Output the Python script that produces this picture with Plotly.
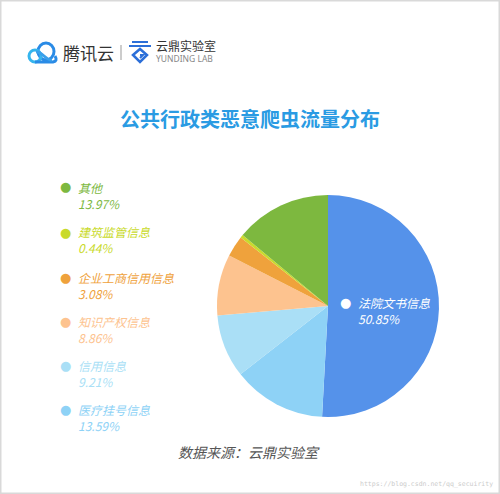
import plotly.graph_objects as go

W, H = 500, 494

categories = ["法院文书信息", "医疗挂号信息", "信用信息", "知识产权信息", "企业工商信用信息", "建筑监管信息", "其他"]
values = [50.85, 13.59, 9.21, 8.86, 3.08, 0.44, 13.97]
colors = ["#5592EA", "#8ED2F6", "#AADFF6", "#FDC38F", "#EFA23C", "#C9DA2B", "#7DB83F"]

legend_order = ["其他", "建筑监管信息", "企业工商信用信息", "知识产权信息", "信用信息", "医疗挂号信息"]
title_text = "公共行政类恶意爬虫流量分布"
source_text = "数据来源：云鼎实验室"


def px(x):
    return x / W


def py(y):
    return 1 - y / H


fig = go.Figure()
fig.add_trace(go.Pie(
    labels=categories, values=values, sort=False, direction="clockwise",
    rotation=0, marker=dict(colors=colors, line=dict(width=0)),
    textinfo="none", hoverinfo="label+percent", showlegend=False,
    domain=dict(x=[px(217), px(439)], y=[py(417), py(195)]),
))

CJK = "Noto Sans CJK SC, Noto Sans, sans-serif"
ann = []
shapes = []

# logo
ann.append(dict(x=px(61), y=py(52), text="腾讯云", showarrow=False, xanchor="left", yanchor="middle",
                font=dict(family=CJK, size=17, color="#333333")))
ann.append(dict(x=px(154), y=py(46), text="云鼎实验室", showarrow=False, xanchor="left", yanchor="middle",
                font=dict(family=CJK, size=12, color="#333333")))
ann.append(dict(x=px(154), y=py(59), text="YUNDING LAB", showarrow=False, xanchor="left", yanchor="middle",
                font=dict(family="Noto Sans, sans-serif", size=8.5, color="#888888")))
shapes.append(dict(type="line", xref="paper", yref="paper", x0=px(121), x1=px(121), y0=py(45), y1=py(60),
                   line=dict(color="#999999", width=1)))
# cloud icon (rough)
shapes.append(dict(type="circle", xref="paper", yref="paper", x0=px(38), x1=px(54), y0=py(60), y1=py(43),
                   line=dict(color="#2A8BE6", width=3)))
shapes.append(dict(type="circle", xref="paper", yref="paper", x0=px(29), x1=px(41), y0=py(62), y1=py(50),
                   line=dict(color="#35B5EE", width=3)))
shapes.append(dict(type="path", xref="paper", yref="paper",
                   path=f"M {px(35)},{py(62)} L {px(53)},{py(62)} Q {px(58)},{py(61)} {px(55)},{py(56)}",
                   line=dict(color="#2A8BE6", width=3)))
shapes.append(dict(type="path", xref="paper", yref="paper",
                   path=f"M {px(36)},{py(52)} C {px(42)},{py(51)} {px(46)},{py(61)} {px(52)},{py(60)}",
                   line=dict(color="#3AA0EA", width=3)))
# yunding icon (rough)
shapes.append(dict(type="line", xref="paper", yref="paper", x0=px(132), x1=px(148), y0=py(42), y1=py(42),
                   line=dict(color="#2C6FD8", width=2)))
shapes.append(dict(type="line", xref="paper", yref="paper", x0=px(129), x1=px(151), y0=py(46), y1=py(46),
                   line=dict(color="#2C6FD8", width=2)))
shapes.append(dict(type="path", xref="paper", yref="paper",
                   path=f"M {px(133)},{py(55)} L {px(140)},{py(49)} L {px(147)},{py(55)} L {px(140)},{py(62)} Z",
                   line=dict(color="#2C6FD8", width=2.5)))
shapes.append(dict(type="path", xref="paper", yref="paper",
                   path=f"M {px(140)},{py(55)} L {px(143)},{py(55)} L {px(140)},{py(58)}",
                   line=dict(color="#2C6FD8", width=2)))

# title
ann.append(dict(x=0.5, y=py(118), text=f"<b>{title_text}</b>", showarrow=False, xanchor="center", yanchor="middle",
                font=dict(family=CJK, size=20, color="#2A9BE3")))

# legend
ys = [187, 232, 277, 321, 365, 409]
for name, y0 in zip(legend_order, ys):
    i = categories.index(name)
    c = colors[i]
    ann.append(dict(x=px(65), y=py(y0), text="●", showarrow=False, xanchor="center", yanchor="middle",
                    font=dict(family="DejaVu Sans", size=13, color=c)))
    ann.append(dict(x=px(76), y=py(y0 + 8), text=f"<i>{name}<br>{values[i]:.2f}%</i>", showarrow=False,
                    xanchor="left", yanchor="middle", align="left",
                    font=dict(family=CJK, size=12, color=c)))

# pie label
ann.append(dict(x=px(345), y=py(302), text="●", showarrow=False, xanchor="center", yanchor="middle",
                font=dict(family="DejaVu Sans", size=13, color="white")))
ann.append(dict(x=px(356), y=py(310), text=f"<i>{categories[0]}<br>{values[0]:.2f}%</i>", showarrow=False,
                xanchor="left", yanchor="middle", align="left", font=dict(family=CJK, size=12, color="white")))

# source
ann.append(dict(x=px(249), y=py(452), text=f"<i>{source_text}</i>", showarrow=False, xanchor="center",
                yanchor="middle", font=dict(family=CJK, size=14, color="#555555")))
# watermark
ann.append(dict(x=px(495), y=py(484), text="https://blog.csdn.net/qq_secuirity", showarrow=False, xanchor="right",
                yanchor="middle", font=dict(family="DejaVu Sans Mono", size=6.5, color="#cccccc")))

# border
shapes.append(dict(type="rect", xref="paper", yref="paper", x0=0, x1=1, y0=0, y1=1,
                   line=dict(color="#d9d9d9", width=3)))

fig.update_layout(width=W, height=H, margin=dict(l=0, r=0, t=0, b=0), paper_bgcolor="white",
                  plot_bgcolor="white", annotations=ann, shapes=shapes)
fig.write_html("out.html", config={"displayModeBar": False},
               post_script="document.body.style.margin='0';")
